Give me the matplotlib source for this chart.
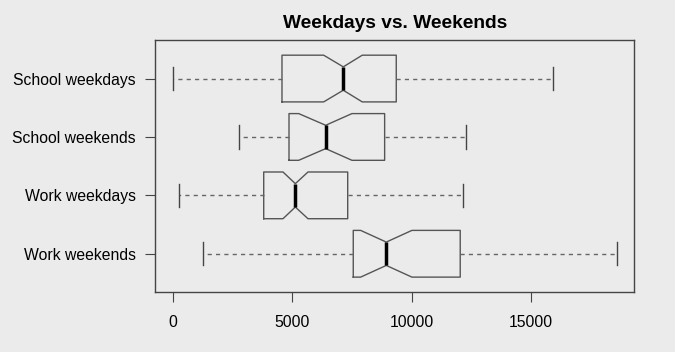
import matplotlib
matplotlib.use("Agg")
import matplotlib.pyplot as plt

# data, bottom to top (R boxplot order)
groups = ["Work weekends", "Work weekdays", "School weekends", "School weekdays"]
whislo = [1257, 265, 2752, 0]
q1 = [7553, 3800, 4860, 4566]
med = [8937, 5125, 6397, 7135]
q3 = [12036, 7320, 8868, 9355]
whishi = [18588, 12162, 12288, 15932]
cilo = [7862, 4608, 5266, 6313]
cihi = [10011, 5656, 7499, 7930]

xticks = [0, 5000, 10000, 15000]

bg = "#EBEBEB"
plt.rcParams["font.family"] = ["Liberation Sans", "DejaVu Sans"]

fig = plt.figure(figsize=(6.75, 3.52), dpi=100, facecolor=bg)
ax = fig.add_axes([155.3 / 675, 1 - 292.3 / 352, (634.3 - 155.3) / 675, (292.3 - 40) / 352])
ax.set_facecolor(bg)

stats = []
for i in range(len(groups)):
    stats.append(dict(whislo=whislo[i], q1=q1[i], med=med[i], q3=q3[i],
                      whishi=whishi[i], cilo=cilo[i], cihi=cihi[i], fliers=[]))

ax.bxp(stats, positions=range(1, 5), vert=False, widths=0.8, shownotches=True,
       boxprops=dict(color="#555555", linewidth=1.0),
       medianprops=dict(color="black", linewidth=2.5, solid_capstyle="butt"),
       whiskerprops=dict(color="#666666", linewidth=1.0, linestyle=(0, (3, 3))),
       capprops=dict(color="#444444", linewidth=1.0))

span = max(whishi) - min(whislo)
ax.set_xlim(min(whislo) - 0.04 * span, max(whishi) + 0.04 * span)
ax.set_ylim(0.34, 4.66)

ax.set_yticks(range(1, 5))
ax.set_yticklabels(groups, fontsize=11.3)
ax.set_xticks(xticks)
ax.set_xticklabels([str(t) for t in xticks], fontsize=11.3)
ax.tick_params(axis="both", length=7, color="#444444")
ax.tick_params(axis="x", pad=9)
ax.tick_params(axis="y", pad=7)

for s in ax.spines.values():
    s.set_color("#444444")
    s.set_linewidth(1.0)

fig.text((155.3 + 634.3) / 2 / 675, 1 - 23.5 / 352, "Weekdays vs. Weekends",
         ha="center", va="center", fontsize=13.8, fontweight="bold")

fig.savefig("out.png", dpi=100, facecolor=bg)
